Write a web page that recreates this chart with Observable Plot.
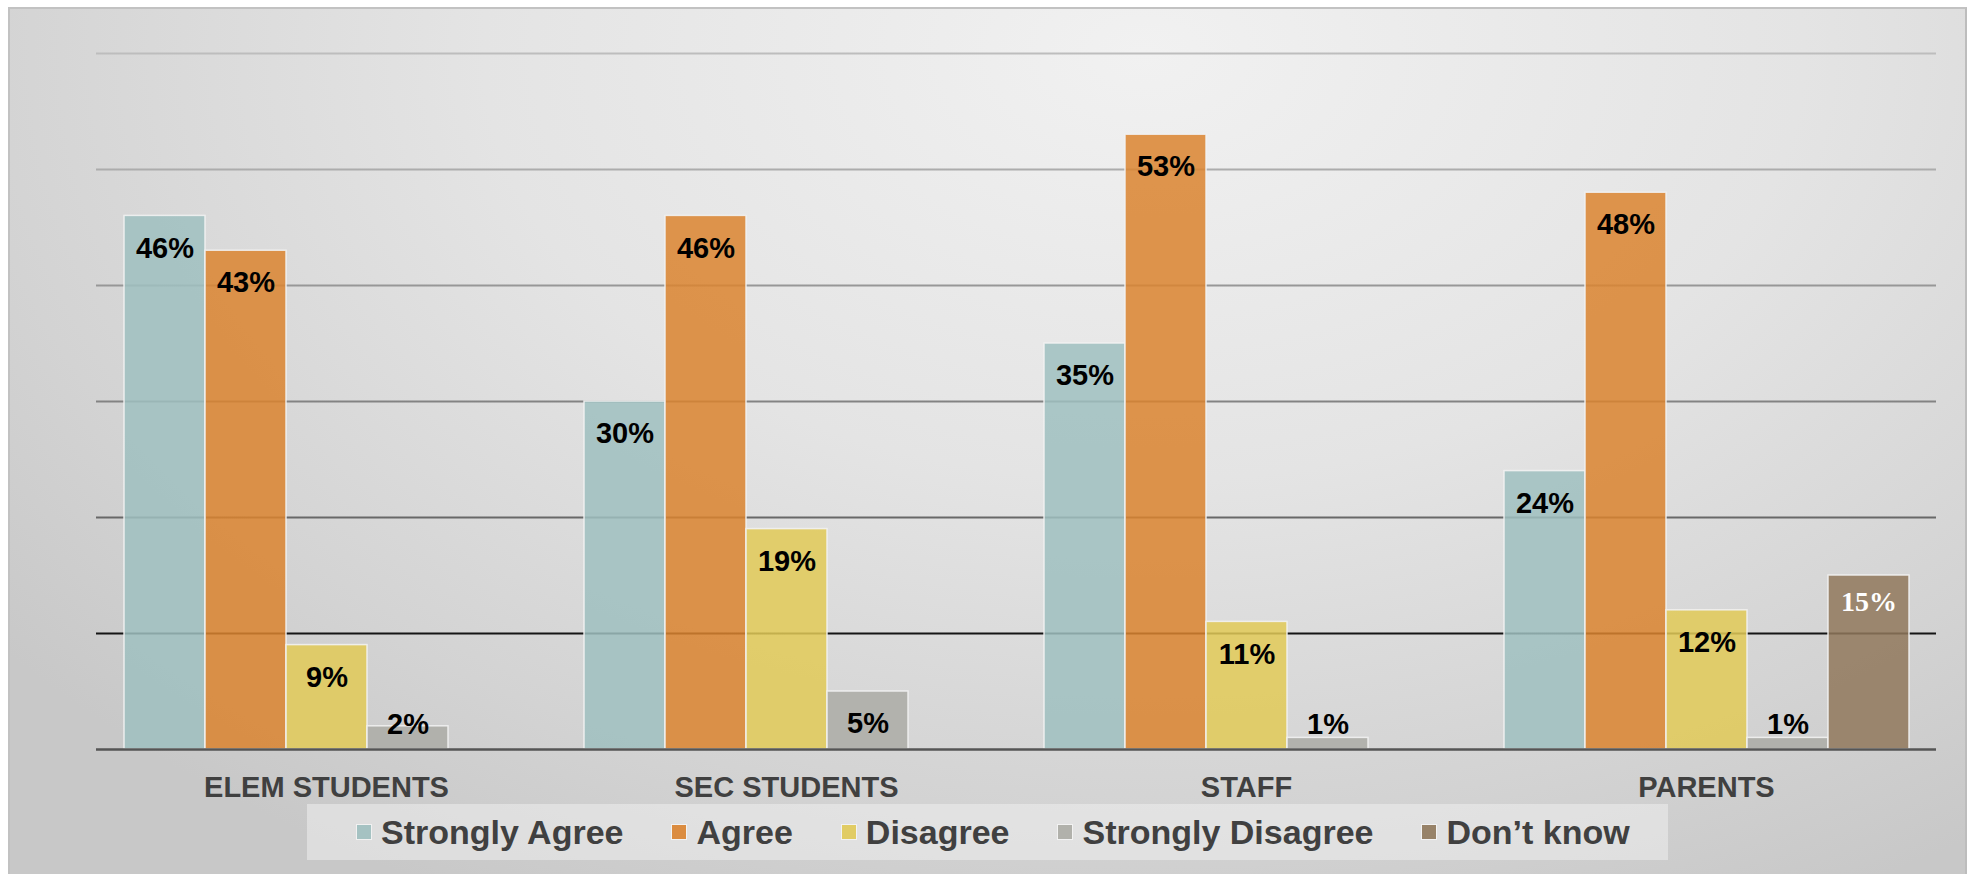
<!DOCTYPE html>
<html>
<head>
<meta charset="utf-8">
<script src="https://cdn.jsdelivr.net/npm/d3@7"></script>
<script src="https://cdn.jsdelivr.net/npm/@observablehq/plot@0.6"></script>
<style>
  html, body { margin: 0; padding: 0; background: #ffffff; width: 1973px; height: 874px; overflow: hidden; }
  #panel {
    position: absolute; left: 8px; top: 7px; width: 1955px; height: 866px;
    border: 2px solid #c2c2c2; border-right: 2px solid #bdbdbd;
    background: radial-gradient(ellipse 75% 110% at 58% 5%, #f1f1f1 0%, #e4e4e4 45%, #d3d3d3 80%, #c8c8c8 100%);
  }
  #chart { position: absolute; left: 0; top: 0; }
  #legend {
    position: absolute; left: 307px; top: 804px; width: 1361px; height: 56px;
    background: rgba(238,238,238,0.55);
    display: flex; align-items: center; box-sizing: border-box; padding-left: 49px;
    font-family: "Liberation Sans", Arial, sans-serif; font-weight: bold; font-size: 34px; color: #404040;
  }
  .item { display: flex; align-items: center; margin-right: 48px; white-space: nowrap; }
  .sw { width: 14px; height: 14px; border: 1.5px solid #f4f4f4; margin-right: 9px; }
</style>
</head>
<body>
<div id="panel"></div>
<div id="chart"></div>
<div id="legend"></div>
<script>
// ---- data ----
const groups = ["ELEM STUDENTS", "SEC STUDENTS", "STAFF", "PARENTS"];
const series = ["Strongly Agree", "Agree", "Disagree", "Strongly Disagree", "Don’t know"];
const stronglyAgree    = [46, 30, 35, 24];
const agree            = [43, 46, 53, 48];
const disagree         = [9, 19, 11, 12];
const stronglyDisagree = [2, 5, 1, 1];
const dontKnow         = [null, null, null, 15];
const yTicks = [0, 10, 20, 30, 40, 50, 60];

// ---- styles ----
const colors = ["#9fc0c0", "#db842f", "#e2ca57", "#acaca6", "#90785c"];
const gridColor = {10: "#151515", 20: "#686868", 30: "#838383", 40: "#979797", 50: "#acacac", 60: "#bdbdbd"};

const valuesBySeries = [stronglyAgree, agree, disagree, stronglyDisagree, dontKnow];
const data = [];
groups.forEach((g, i) => series.forEach((s, j) => {
  const v = valuesBySeries[j][i];
  if (v != null) data.push({group: g, series: s, value: v});
}));

const labelY = d => Math.max(d.value - 2.8, 2.1);

const chart = Plot.plot({
  width: 1973,
  height: 810,
  marginLeft: 95,
  marginRight: 36,
  marginTop: 53,
  marginBottom: 61,
  style: {background: "transparent", overflow: "visible", fontFamily: "'Liberation Sans', Arial, sans-serif"},
  fx: {domain: groups, paddingInner: 0, paddingOuter: 0, axis: null},
  x: {domain: series, paddingInner: 0, paddingOuter: 0.32, axis: null},
  y: {domain: [0, 60], axis: null},
  color: {domain: series, range: colors},
  marks: [
    ...yTicks.filter(t => t > 0).map(t => Plot.ruleY([t], {stroke: gridColor[t], strokeWidth: 2})),
    Plot.barY(data, {fx: "group", x: "series", y: "value", fill: "series", fillOpacity: 0.85,
      stroke: "#f2f2f2", strokeWidth: 1.5, strokeOpacity: 0.9}),
    Plot.ruleY([0], {stroke: "#555555", strokeWidth: 2.5}),
    Plot.text(data, {filter: d => d.series !== "Don’t know", fx: "group", x: "series", y: labelY,
      text: d => `${d.value}%`, fontSize: 29, fontWeight: "bold", fill: "#000000", lineAnchor: "middle"}),
    Plot.text(data, {filter: d => d.series === "Don’t know", fx: "group", x: "series", y: d => d.value - 2.3,
      text: d => `${d.value}%`, fontSize: 28, fontWeight: "bold", fill: "#ffffff", lineAnchor: "middle",
      fontFamily: "'Liberation Serif', 'Times New Roman', serif"}),
    Plot.text(groups, {fx: d => d, text: d => d, frameAnchor: "bottom", dy: 38, lineAnchor: "middle",
      fontSize: 29, fontWeight: "bold", fill: "#404040"})
  ]
});
document.getElementById("chart").appendChild(chart);

// ---- legend ----
const legend = document.getElementById("legend");
series.forEach((s, i) => {
  const item = document.createElement("div");
  item.className = "item";
  const sw = document.createElement("span");
  sw.className = "sw";
  sw.style.background = colors[i];
  sw.style.opacity = 0.9;
  const tx = document.createElement("span");
  tx.textContent = s;
  item.appendChild(sw);
  item.appendChild(tx);
  legend.appendChild(item);
});
</script>
</body>
</html>
